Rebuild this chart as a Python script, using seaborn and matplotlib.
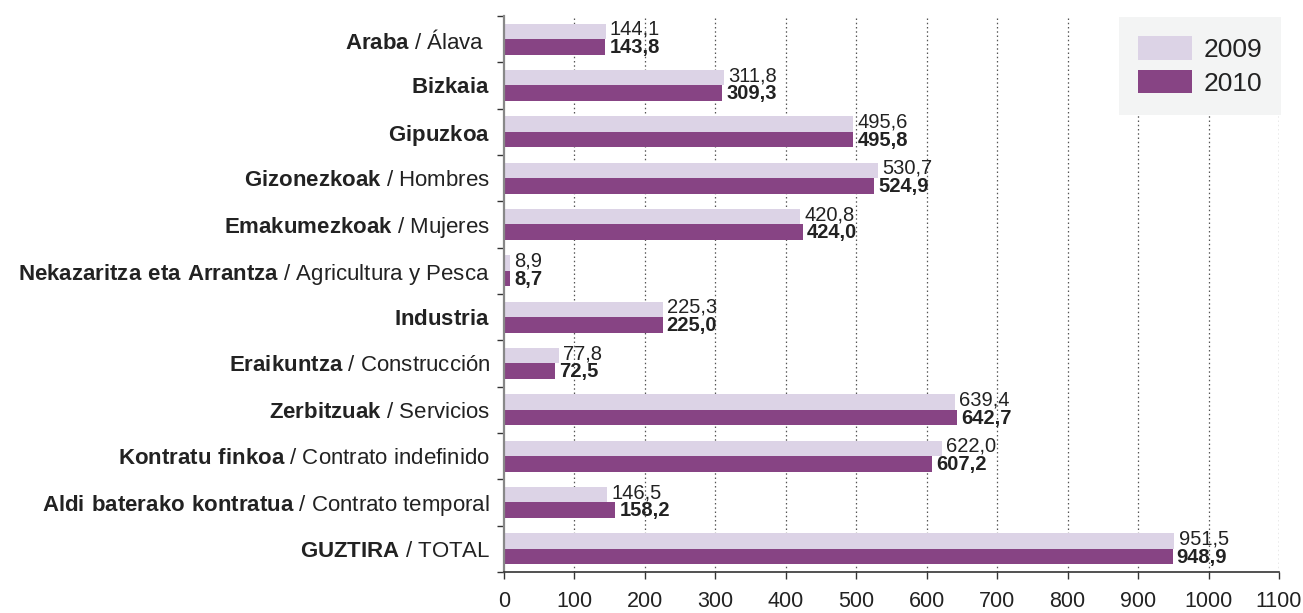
import pandas as pd
import seaborn as sns
import matplotlib.pyplot as plt
from matplotlib.ticker import FixedLocator

# Data
bold_names = ["Araba", "Bizkaia", "Gipuzkoa", "Gizonezkoak", "Emakumezkoak",
              "Nekazaritza eta Arrantza", "Industria", "Eraikuntza", "Zerbitzuak",
              "Kontratu finkoa", "Aldi baterako kontratua", "GUZTIRA"]
plain_names = ["Álava  ", "", "", "Hombres", "Mujeres", "Agricultura y Pesca", "",
               "Construcción", "Servicios", "Contrato indefinido", "Contrato temporal",
               "TOTAL"]
years = ["2009", "2010"]
values_2009 = [144.1, 311.8, 495.6, 530.7, 420.8, 8.9, 225.3, 77.8, 639.4, 622.0, 146.5, 951.5]
values_2010 = [143.8, 309.3, 495.8, 524.9, 424.0, 8.7, 225.0, 72.5, 642.7, 607.2, 158.2, 948.9]
x_ticks = [0, 100, 200, 300, 400, 500, 600, 700, 800, 900, 1000, 1100]

colors = {"2009": "#DCD3E6", "2010": "#874484"}

sns.set_style("white")
plt.rcParams["font.family"] = ["Liberation Sans", "DejaVu Sans"]
plt.rcParams["mathtext.fontset"] = "custom"
plt.rcParams["mathtext.rm"] = "Liberation Sans"
plt.rcParams["mathtext.bf"] = "Liberation Sans:bold"


def make_label(b, p):
    b_tex = r"$\mathbf{" + b.replace(" ", r"\ ") + "}$"
    return b_tex + (" / " + p if p else "")


labels = [make_label(b, p) for b, p in zip(bold_names, plain_names)]

df = pd.DataFrame({
    "label": labels * 2,
    "year": ["2009"] * len(labels) + ["2010"] * len(labels),
    "value": values_2009 + values_2010,
})

fig = plt.figure(figsize=(13.03, 6.13), dpi=100)
ax = fig.add_axes([0.3868, 0.0669, 0.5948, 0.907])

sns.barplot(data=df, y="label", x="value", hue="year", palette=colors, saturation=1,
            orient="h", width=0.67, gap=0, linewidth=0, ax=ax, legend=True)

ax.set_xlim(0, 1100)
ax.set_ylim(len(labels) - 0.5, -0.5)
ax.set_xlabel("")
ax.set_ylabel("")

# value labels
bar_h = 0.67 / 2
for i, (a, b) in enumerate(zip(values_2009, values_2010)):
    ax.annotate(f"{a:.1f}".replace(".", ","), (a, i - bar_h / 2), xytext=(3, 1.5),
                textcoords="offset points", va="center", ha="left",
                fontsize=14.5, color="#222222")
    ax.annotate(f"{b:.1f}".replace(".", ","), (b, i + bar_h / 2), xytext=(3, -0.5),
                textcoords="offset points", va="center", ha="left",
                fontsize=14.5, fontweight="bold", color="#222222")

# grid
ax.set_xticks(x_ticks)
ax.set_xticklabels([str(t) for t in x_ticks], fontsize=15.5, color="#222222")
for t in x_ticks[1:]:
    ax.axvline(t, color="#555555", linestyle=(0, (1.2, 2.2)), linewidth=0.9, zorder=0)

ax.tick_params(axis="x", direction="out", length=5, width=1, color="#333333", pad=9, bottom=True)
ax.tick_params(axis="y", which="major", length=0, pad=10, labelsize=16, labelcolor="#222222")
ax.yaxis.set_minor_locator(FixedLocator([i - 0.5 for i in range(len(labels) + 1)]))
ax.tick_params(axis="y", which="minor", direction="out", length=5, width=1, color="#333333", left=True)

for s in ["top", "right"]:
    ax.spines[s].set_visible(False)
ax.spines["left"].set_color("#888888")
ax.spines["left"].set_linewidth(1.6)
ax.spines["bottom"].set_color("#333333")
ax.spines["bottom"].set_linewidth(1.2)

leg = ax.legend(loc="upper right", bbox_to_anchor=(1.003, 0.998), fontsize=19,
                frameon=True, fancybox=False, handlelength=2.05, handleheight=1.0,
                borderpad=0.72, labelspacing=0.3, handletextpad=0.45, borderaxespad=0)
leg.get_frame().set_facecolor("#F3F4F4")
leg.get_frame().set_edgecolor("none")
leg.get_frame().set_alpha(1)
for txt in leg.get_texts():
    txt.set_color("#222222")

fig.savefig("out.png", dpi=100)
